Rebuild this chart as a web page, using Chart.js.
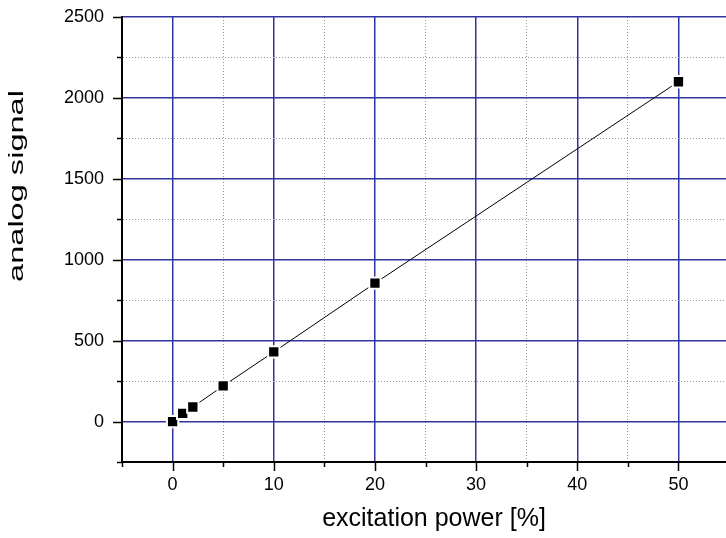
<!DOCTYPE html>
<html>
<head>
<meta charset="utf-8">
<script src="https://cdn.jsdelivr.net/npm/chart.js@4.4.1/dist/chart.umd.min.js"></script>
<style>
  html, body { margin: 0; padding: 0; background: #fff; }
  #wrap { width: 726px; height: 538px; }
</style>
</head>
<body>
<div id="wrap"><canvas id="signalChart"></canvas></div>
<script>
// excitation power [%] vs analog signal
const power = [0, 1, 2, 5, 10, 20, 50];
const signal = [0, 50, 90, 220, 430, 855, 2100];

const xMajorTicks = [0, 10, 20, 30, 40, 50];
const yMajorTicks = [0, 500, 1000, 1500, 2000, 2500];

const FONT = "'Liberation Sans', Arial, sans-serif";
const GRID_BLUE = '#3035a0';
const GRID_GRAY = '#9a9a9a';

const isMajor = (scaleId, v) => scaleId === 'x'
  ? xMajorTicks.includes(v)
  : yMajorTicks.includes(v);

// tick marks: long on major, short on minor
const tickMarks = {
  id: 'tickMarks',
  afterDraw(chart) {
    const { ctx, scales: { x, y } } = chart;
    ctx.save();
    ctx.strokeStyle = '#000';
    ctx.lineWidth = 1.5;
    x.ticks.forEach(t => {
      const px = Math.round(x.getPixelForValue(t.value)) + 0.5;
      const len = isMajor('x', t.value) ? 9 : 5;
      ctx.beginPath();
      ctx.moveTo(px, x.top);
      ctx.lineTo(px, x.top + len);
      ctx.stroke();
    });
    y.ticks.forEach(t => {
      const py = Math.round(y.getPixelForValue(t.value)) + 0.5;
      const len = isMajor('y', t.value) ? 9 : 5;
      ctx.beginPath();
      ctx.moveTo(y.right - len, py);
      ctx.lineTo(y.right, py);
      ctx.stroke();
    });
    ctx.restore();
  }
};

// axis titles; the y one is stretched along its length like the original
const axisTitles = {
  id: 'axisTitles',
  afterDraw(chart) {
    const { ctx } = chart;
    ctx.save();
    ctx.fillStyle = '#000';
    ctx.textAlign = 'center';

    ctx.font = '25px ' + FONT;
    ctx.textBaseline = 'middle';
    ctx.fillText('excitation power [%]', 434, 519);

    ctx.translate(23, 186);
    ctx.rotate(-Math.PI / 2);
    ctx.scale(1.55, 1);
    ctx.font = '21px ' + FONT;
    ctx.textBaseline = 'alphabetic';
    ctx.fillText('analog signal', 0, 0);
    ctx.restore();
  }
};

const points = power.map((p, i) => ({ x: p, y: signal[i] }));

new Chart(document.getElementById('signalChart'), {
  type: 'scatter',
  data: {
    datasets: [{
      data: points,
      showLine: true,
      borderColor: '#000',
      borderWidth: 1,
      pointStyle: 'rect',
      pointRadius: 8,
      pointHoverRadius: 8,
      pointBackgroundColor: '#000',
      pointBorderColor: '#fff',
      pointBorderWidth: 2,
    }]
  },
  options: {
    responsive: true,
    maintainAspectRatio: false,
    animation: false,
    layout: { autoPadding: false, padding: { top: 17, right: 0, bottom: 0, left: 0 } },
    plugins: { legend: { display: false }, tooltip: { enabled: false } },
    scales: {
      x: {
        type: 'linear',
        min: -5,
        max: 54.7,
        afterFit(scale) { scale.height = 76; },
        ticks: {
          stepSize: 5,
          includeBounds: false,
          color: '#000',
          font: { family: FONT, size: 18 },
          padding: 0,
          maxRotation: 0,
          autoSkip: false,
          callback: v => isMajor('x', v) ? String(v) : ''
        },
        grid: {
          drawTicks: true,
          tickLength: 12,
          tickColor: 'rgba(0,0,0,0)',
          color: ctx => isMajor('x', ctx.tick.value) ? GRID_BLUE : GRID_GRAY,
          lineWidth: ctx => isMajor('x', ctx.tick.value) ? 1.5 : 1
        },
        border: {
          color: '#000',
          width: 2,
          dash: ctx => (ctx.tick && !isMajor('x', ctx.tick.value)) ? [1, 2] : []
        }
      },
      y: {
        type: 'linear',
        min: -250,
        max: 2500,
        afterFit(scale) { scale.width = 122; },
        ticks: {
          stepSize: 250,
          color: '#000',
          font: { family: FONT, size: 18 },
          padding: 0,
          autoSkip: false,
          callback: v => isMajor('y', v) ? String(v) : ''
        },
        grid: {
          drawTicks: true,
          tickLength: 18,
          tickColor: 'rgba(0,0,0,0)',
          color: ctx => isMajor('y', ctx.tick.value) ? GRID_BLUE : GRID_GRAY,
          lineWidth: ctx => isMajor('y', ctx.tick.value) ? 1.5 : 1
        },
        border: {
          color: '#000',
          width: 2,
          dash: ctx => (ctx.tick && !isMajor('y', ctx.tick.value)) ? [1, 2] : []
        }
      }
    }
  },
  plugins: [tickMarks, axisTitles]
});
</script>
</body>
</html>
